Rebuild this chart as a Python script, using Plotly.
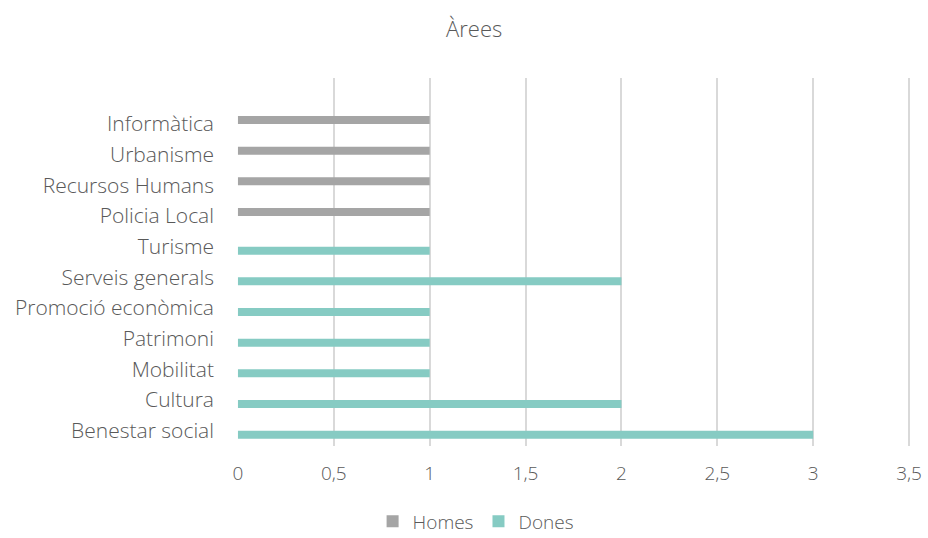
import plotly.graph_objects as go

categories = ["Benestar social", "Cultura", "Mobilitat", "Patrimoni", "Promoció econòmica",
              "Serveis generals", "Turisme", "Policia Local", "Recursos Humans", "Urbanisme", "Informàtica"]
dones = [3, 2, 1, 1, 1, 2, 1, None, None, None, None]
homes = [None, None, None, None, None, None, None, 1, 1, 1, 1]
x_ticks = [0, 0.5, 1, 1.5, 2, 2.5, 3, 3.5]
x_tick_labels = ["0", "0,5", "1", "1,5", "2", "2,5", "3", "3,5"]

font_family = "Open Sans"
text_color = "#595959"

fig = go.Figure()
fig.add_trace(go.Bar(y=categories, x=dones, orientation="h", name="Dones",
                     marker=dict(color="#86CBC3", line=dict(width=0))))
fig.add_trace(go.Bar(y=categories, x=homes, orientation="h", name="Homes",
                     marker=dict(color="#A5A5A5", line=dict(width=0))))

fig.update_layout(
    width=928, height=538,
    paper_bgcolor="white", plot_bgcolor="white",
    margin=dict(l=237, r=17, t=78, b=92, autoexpand=False),
    barmode="group", bargap=0.48, bargroupgap=0,
    font=dict(family=font_family, color=text_color, size=18, weight=300),
    title=dict(text="Àrees", x=0.511, xanchor="center", y=0.945, yanchor="middle",
               font=dict(size=22, color=text_color, family=font_family, weight=300)),
    legend=dict(orientation="h", x=0.354, xanchor="center", y=-0.205, yanchor="middle",
                traceorder="reversed", font=dict(size=19, color=text_color, weight=300),
                itemwidth=30, tracegroupgap=0),
    showlegend=True,
)
fig.update_xaxes(range=[-0.005, 3.51], tickvals=x_ticks, ticktext=x_tick_labels,
                 tickfont=dict(size=19),
                 showgrid=True, gridcolor="#D9D9D9", gridwidth=2,
                 zeroline=False, showline=False, ticks="", ticklabelstandoff=14,
                 automargin=False)
fig.update_yaxes(type="category", categoryorder="array", categoryarray=categories,
                 range=[-0.5, 11.5], showgrid=False, zeroline=False, showline=False,
                 tickfont=dict(size=21),
                 ticks="", ticklabelstandoff=22, automargin=False)

fig.write_html("out.html")
